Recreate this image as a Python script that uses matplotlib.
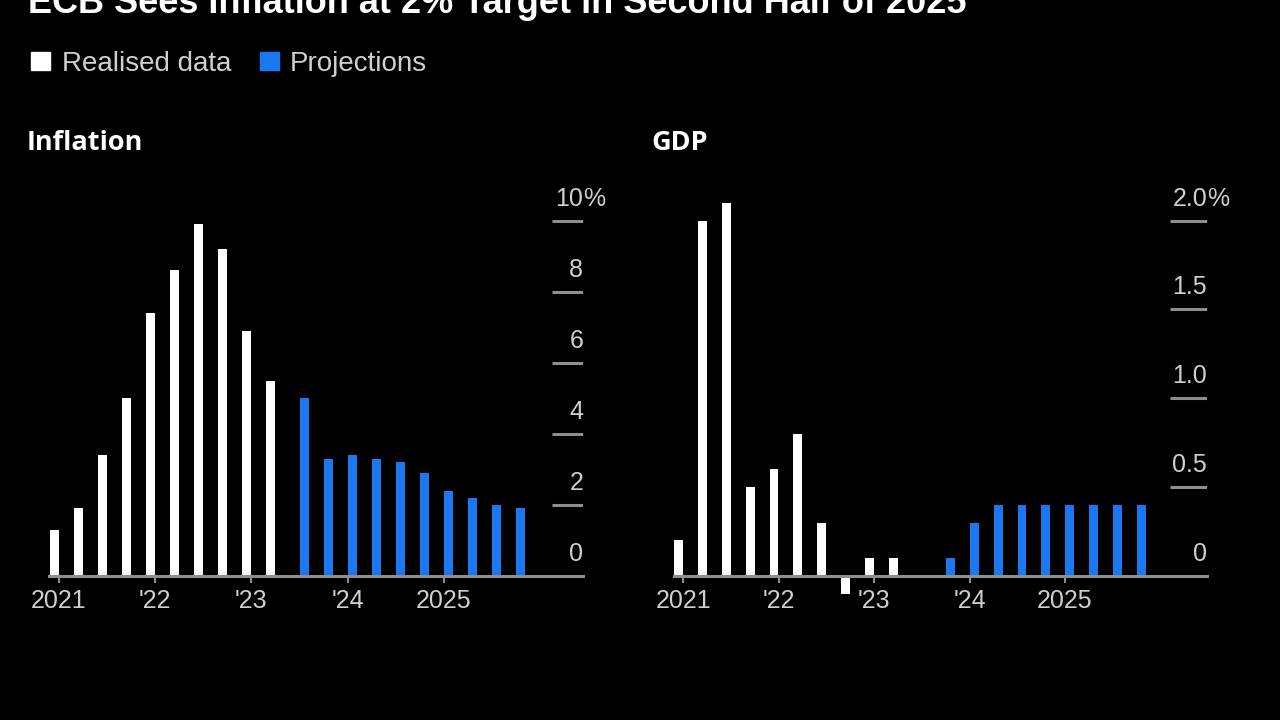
import matplotlib.pyplot as plt
from matplotlib.patches import Rectangle
from matplotlib.transforms import ScaledTranslation

plt.rcParams['font.family'] = ['Liberation Sans', 'DejaVu Sans']

title = "ECB Sees Inflation at 2% Target in Second Half of 2025"
legend_labels = ["Realised data", "Projections"]

# quarterly data
real_quarters = ["2021Q1", "2021Q2", "2021Q3", "2021Q4", "2022Q1",
                 "2022Q2", "2022Q3", "2022Q4", "2023Q1", "2023Q2"]
infl_real = [1.3, 1.9, 3.4, 5.0, 7.4, 8.6, 9.9, 9.2, 6.9, 5.5]
gdp_real = [0.2, 2.0, 2.1, 0.5, 0.6, 0.8, 0.3, -0.1, 0.1, 0.1]

infl_proj_quarters = ["2023Q3", "2023Q4", "2024Q1", "2024Q2", "2024Q3",
                      "2024Q4", "2025Q1", "2025Q2", "2025Q3", "2025Q4"]
infl_proj = [5.0, 3.3, 3.4, 3.3, 3.2, 2.9, 2.4, 2.2, 2.0, 1.9]

gdp_proj_quarters = ["2023Q4", "2024Q1", "2024Q2", "2024Q3",
                     "2024Q4", "2025Q1", "2025Q2", "2025Q3", "2025Q4"]
gdp_proj = [0.1, 0.3, 0.4, 0.4, 0.4, 0.4, 0.4, 0.4, 0.4]

year_ticks = [2021, 2022, 2023, 2024, 2025]
year_labels = ["2021", "'22", "'23", "'24", "2025"]
infl_yticks = [0, 2, 4, 6, 8, 10]
infl_ylabels = ["0", "2", "4", "6", "8", "10"]
gdp_yticks = [0, 0.5, 1.0, 1.5, 2.0]
gdp_ylabels = ["0", "0.5", "1.0", "1.5", "2.0"]

BG = "black"
BLUE = "#1a78f0"
GRID = "#8e8e8e"
LABEL = "#cfcfcf"
W, H = 1280, 720


def qpos(q, shift):
    year, n = q.split("Q")
    return int(year) + (int(n) - 1) * 0.25 + shift


def px_rect(left, right, top, bottom):
    return [left / W, 1 - bottom / H, (right - left) / W, (bottom - top) / H]


fig = plt.figure(figsize=(12.8, 7.2), dpi=100, facecolor=BG)


def panel(rect, xlim, ylim, grid_from, real_v, proj_q, proj_v, yticks, ylabels, name, name_x):
    ax = fig.add_axes(rect)
    ax.set_facecolor(BG)
    ax.bar([qpos(q, -0.05) for q in real_quarters], real_v, width=0.092, color="white", zorder=2)
    ax.bar([qpos(q, 0.05) for q in proj_q], proj_v, width=0.092, color=BLUE, zorder=2)
    ax.set_xlim(xlim)
    ax.set_ylim(ylim)
    for s in ["top", "left", "right"]:
        ax.spines[s].set_visible(False)
    ax.spines["bottom"].set_position(("data", 0))
    ax.spines["bottom"].set_color(GRID)
    ax.spines["bottom"].set_linewidth(2.2)
    ax.set_xticks(year_ticks, year_labels)
    ax.tick_params(axis="x", length=5, width=1.5, color=GRID, labelcolor=LABEL,
                   labelsize=18, pad=4.5)
    ax.set_yticks([])
    off = ax.transData + ScaledTranslation(0, 0.15, fig.dpi_scale_trans)
    for y, lab in zip(yticks, ylabels):
        if y != 0:
            ax.axhline(y, xmin=grid_from, xmax=1, color=GRID, lw=2.2, solid_capstyle="butt")
        ax.text(xlim[1], y, lab, ha="right", va="baseline", transform=off,
                color=LABEL, fontsize=18)
    ax.text(xlim[1], yticks[-1], "%", ha="left", va="baseline", transform=off,
            color=LABEL, fontsize=18)
    fig.text(name_x / W, 1 - 150 / H, name, color="white", fontsize=19.5,
             fontweight="bold", va="baseline", family=["Open Sans", "DejaVu Sans"])
    return ax


panel(px_rect(49.4, 583.3, 185.2, 611.5), (2020.9, 2026.45), (-1, 11), 0.942,
      infl_real, infl_proj_quarters, infl_proj, infl_yticks, infl_ylabels, "Inflation", 27)
panel(px_rect(673.8, 1207.1, 185.1, 611.5), (2020.9, 2026.49), (-0.2, 2.2), 0.930,
      gdp_real, gdp_proj_quarters, gdp_proj, gdp_yticks, gdp_ylabels, "GDP", 651)

# title (top is cut off in the original)
fig.text(28 / W, 1 - 13 / H, title, color="white", fontsize=26, fontweight="bold",
         va="baseline")

# legend
for x0, col, lab, tx in [(31, "white", legend_labels[0], 62), (260, BLUE, legend_labels[1], 290)]:
    fig.patches.append(Rectangle((x0 / W, 1 - 70 / H), 19 / W, 18 / H, color=col,
                                 transform=fig.transFigure, figure=fig))
    fig.text(tx / W, 1 - 71 / H, lab, color=LABEL, fontsize=20, va="baseline")

fig.savefig("out.png", dpi=100, facecolor=BG)
